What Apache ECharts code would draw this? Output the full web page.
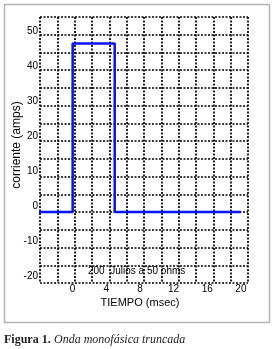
<!DOCTYPE html>
<html><head><meta charset="utf-8">
<script src="https://cdn.jsdelivr.net/npm/echarts@6/dist/echarts.min.js"></script>
<style>html,body{margin:0;padding:0;background:#fff}#c{width:276px;height:349px}</style>
</head><body><div id="c"></div>
<script>
// Data
const timeMs = [-4, 0, 0, 5, 5, 20];
const currentAmps = [0, 0, 47.5, 47.5, 0, 0];
const xTickLabels = [0, 4, 8, 12, 16, 20];
const yTickLabels = [-20, -10, 0, 10, 20, 30, 40, 50];
const yTitle = 'corriente (amps)';
const xTitle = 'TIEMPO (msec)';
const annotation = '200  Julios a 50 ohms';
const captionBold = 'Figura 1';
const captionItalic = 'Onda monofásica truncada';

const FONT = "'Liberation Sans Narrow', 'Liberation Sans', Arial, sans-serif";
const gridLine = {show: true, lineStyle: {color: '#000', width: 1.7, type: [2, 1.5]}};

const chart = echarts.init(document.getElementById('c'), null, {renderer: 'canvas'});
chart.setOption({
  animation: false,
  backgroundColor: '#fff',
  grid: [
    {left: 40, top: 17, width: 208, height: 266},          // grid lines box
    {left: 39, top: 31.5, width: 201.9, height: 245},      // tick label scale
    {left: 39, top: 17, width: 201.9, height: 266}         // data
  ],
  xAxis: [
    {gridIndex: 0, type: 'value', min: -4, max: 20, interval: 2,
     axisLine: {show: false}, axisTick: {show: false}, axisLabel: {show: false}, splitLine: gridLine},
    {gridIndex: 1, type: 'value', min: -4, max: 20, interval: 4,
     axisLine: {show: false}, axisTick: {show: false}, splitLine: {show: false},
     axisLabel: {margin: 8, fontSize: 10, color: '#000', fontFamily: FONT,
       formatter: v => xTickLabels.includes(v) ? String(v) : ''}},
    {gridIndex: 2, type: 'value', min: -4, max: 20, show: false}
  ],
  yAxis: [
    {gridIndex: 0, type: 'value', min: -20, max: 55, interval: 5,
     axisLine: {show: false}, axisTick: {show: false}, axisLabel: {show: false}, splitLine: gridLine},
    {gridIndex: 1, type: 'value', min: -20, max: 50, interval: 10,
     axisLine: {show: false}, axisTick: {show: false}, splitLine: {show: false},
     axisLabel: {margin: 1, fontSize: 10, color: '#000', fontFamily: FONT,
       formatter: v => yTickLabels.includes(v) ? String(v) : ''}},
    {gridIndex: 2, type: 'value', min: -20, max: 55, show: false}
  ],
  series: [{
    type: 'line', xAxisIndex: 2, yAxisIndex: 2,
    data: timeMs.map((t, i) => [t, currentAmps[i]]),
    showSymbol: false, symbol: 'none',
    lineStyle: {color: '#0a14f0', width: 2.5}
  }],
  graphic: [
    {type: 'rect', shape: {x: 4.5, y: 4.5, width: 265, height: 318},
     style: {fill: 'none', stroke: '#b4b4b4', lineWidth: 1.5}, z: -1},
    {type: 'text', x: 17, y: 145, rotation: Math.PI / 2,
     style: {text: yTitle, font: '12px ' + FONT, fill: '#000', align: 'center', verticalAlign: 'middle'}},
    {type: 'text', x: 140, y: 303,
     style: {text: xTitle, font: '11px ' + FONT, fill: '#000', align: 'center', verticalAlign: 'middle'}},
    {type: 'text', x: 88, y: 271,
     style: {text: annotation, font: '10px ' + FONT, fill: '#000', align: 'left', verticalAlign: 'middle'}, z: 10},
    {type: 'text', x: 4, y: 340,
     style: {
       text: '{b|' + captionBold + '}{b|.} {i|' + captionItalic + '}',
       verticalAlign: 'middle', align: 'left',
       rich: {
         b: {font: 'bold 12px "Liberation Serif", "DejaVu Serif", serif', fill: '#222'},
         i: {font: 'italic 12px "Liberation Serif", "DejaVu Serif", serif', fill: '#222'}
       }
     }}
  ]
});
</script></body></html>
